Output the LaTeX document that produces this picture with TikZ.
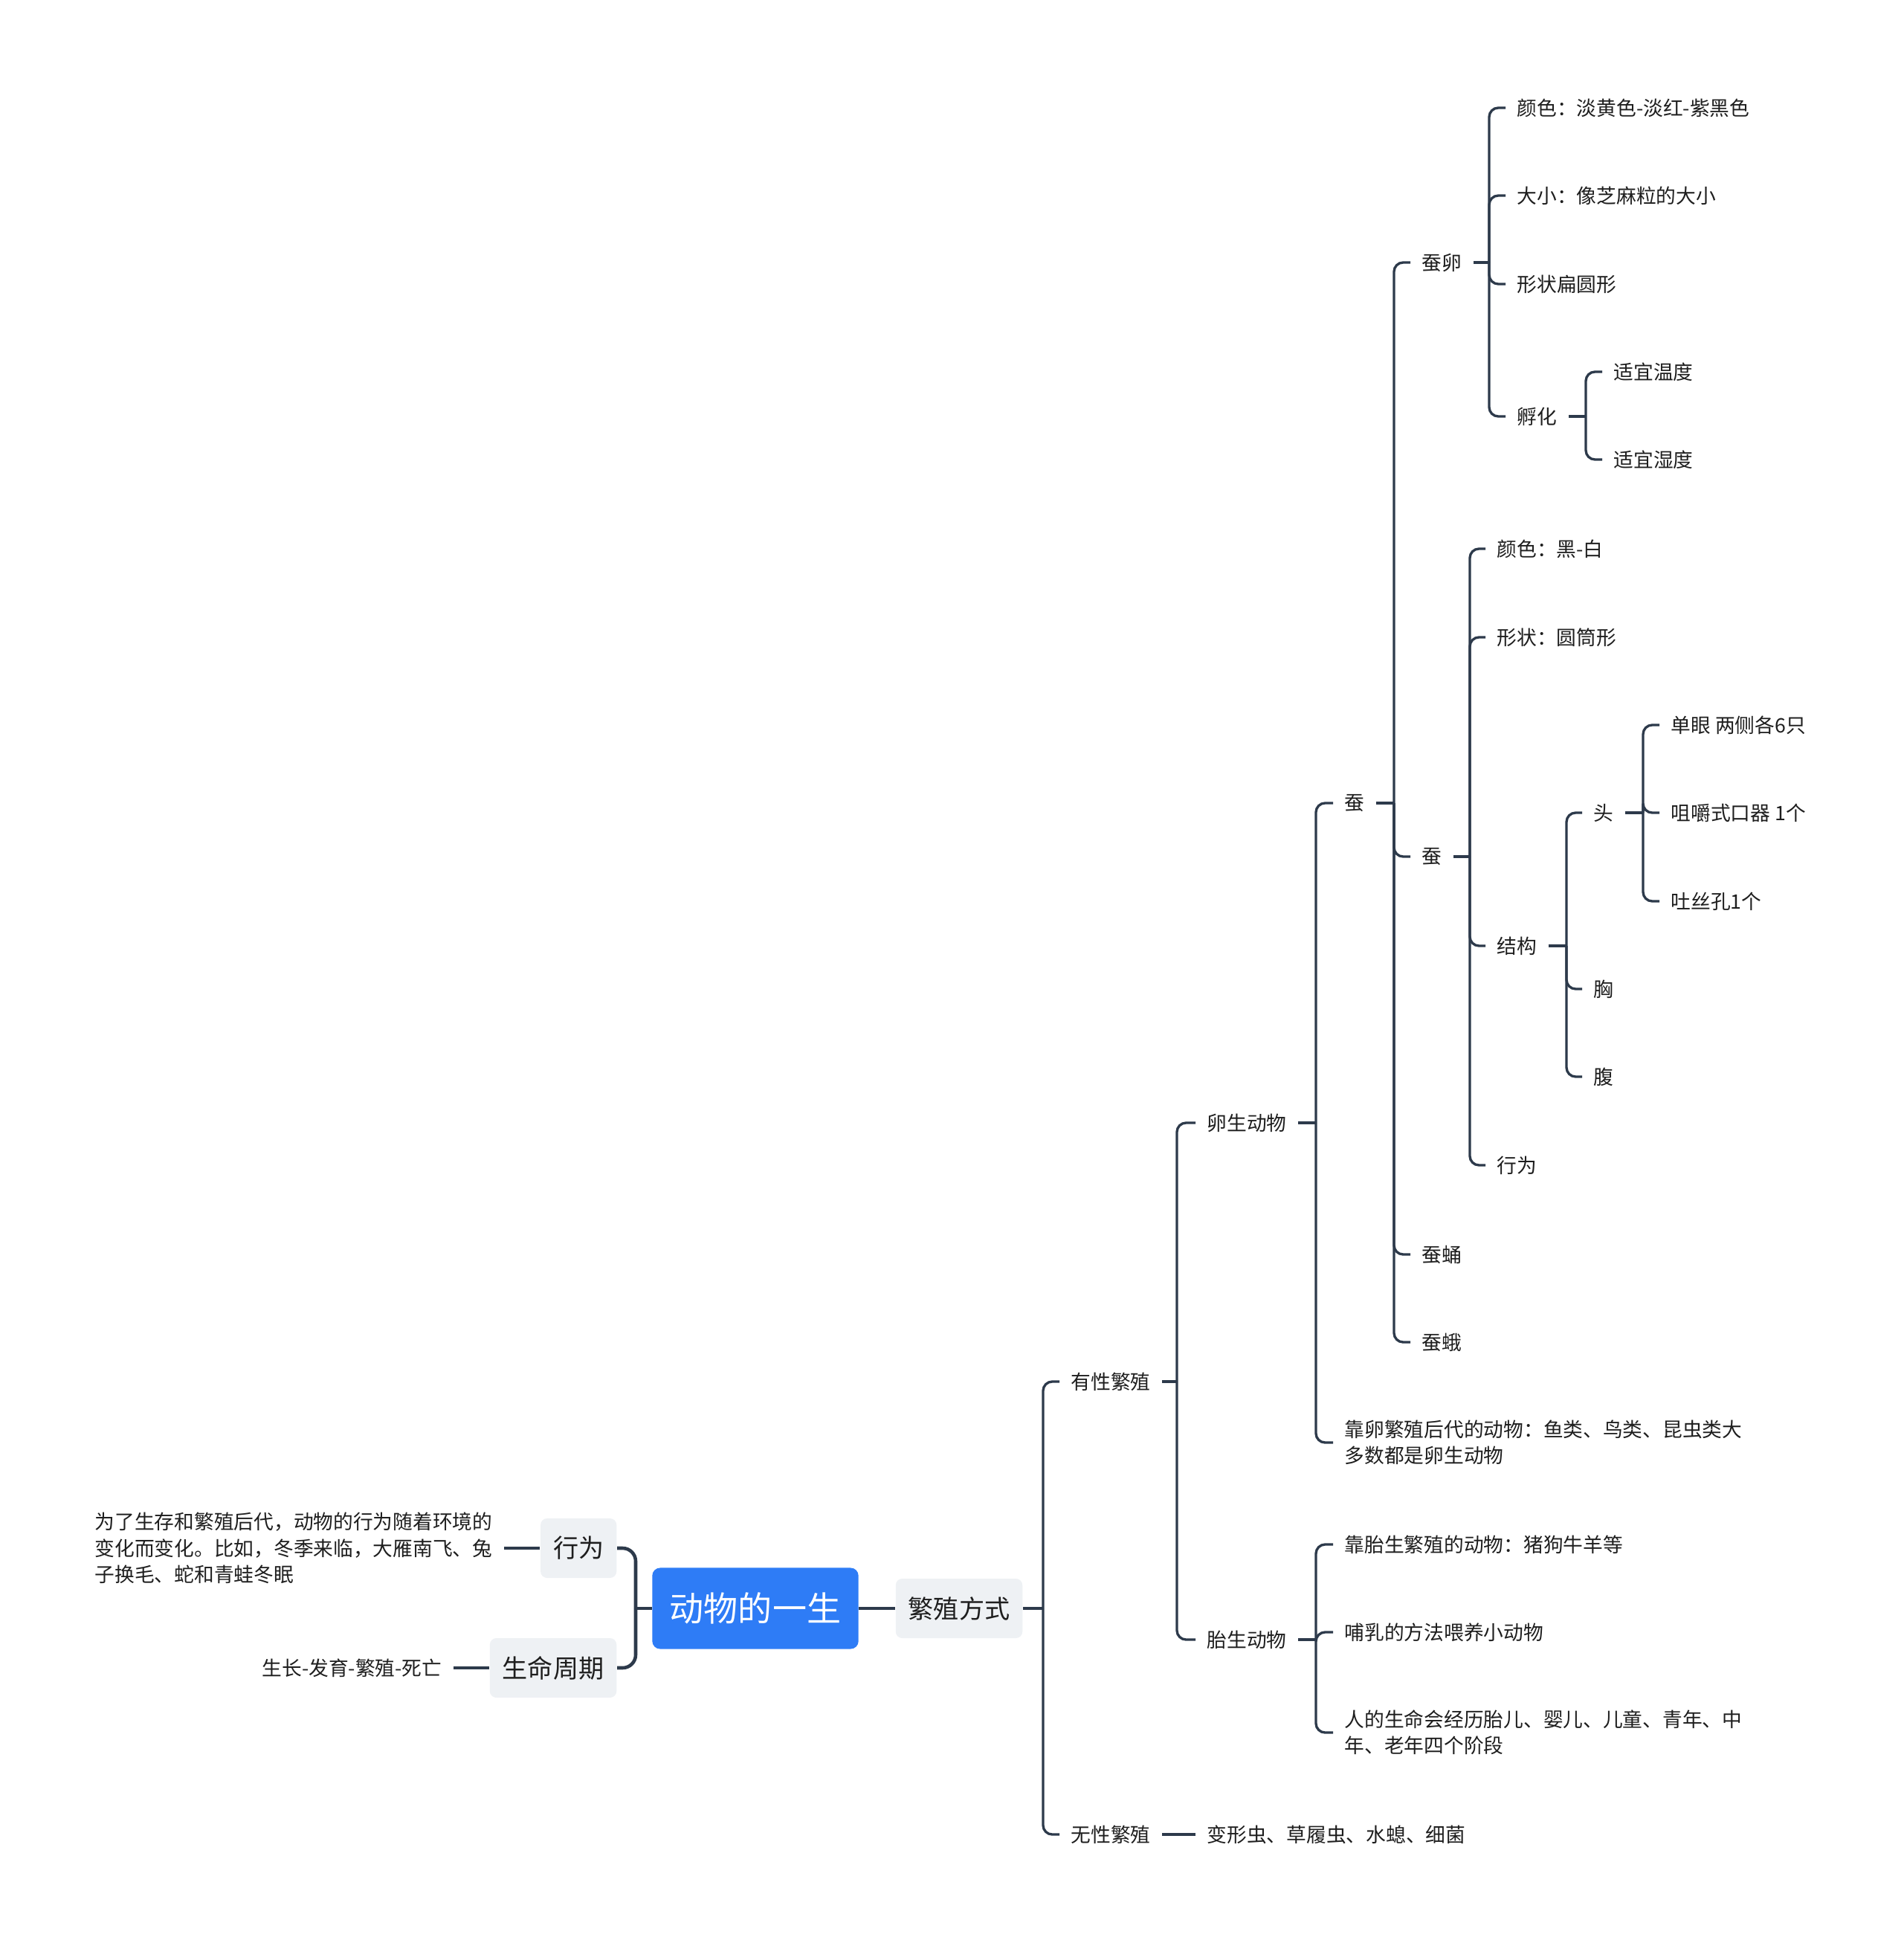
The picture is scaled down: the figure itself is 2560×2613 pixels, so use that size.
\documentclass[tikz,border=0pt]{standalone}
\usepackage{fontspec}
\setmainfont{Noto Sans CJK SC}
\definecolor{linkc}{HTML}{2D3A4B}
\definecolor{rootc}{HTML}{2E7CF6}
\definecolor{boxc}{HTML}{EEF1F4}
\definecolor{inkc}{HTML}{1E1E1E}
\tikzset{
  link/.style={draw=linkc, line width=0.95pt},
  mainlink/.style={draw=linkc, line width=1.3pt},
  leaf/.style={inner xsep=0.15cm, inner ysep=0.05cm, text=inkc, align=left,
    font=\fontsize{7.6pt}{10pt}\selectfont},
  topic/.style={fill=boxc, rounded corners=2.5pt, inner xsep=0.17cm,
    minimum height=0.8cm, text=inkc, font=\fontsize{9.7pt}{12pt}\selectfont},
  rootbox/.style={fill=rootc, rounded corners=3pt, inner xsep=0.235cm,
    minimum height=1.09cm, text=white, font=\fontsize{13.1pt}{16pt}\selectfont},
}
\newcommand{\stub}[2]{% short line from parent #1 to its spine at x=#2
  \coordinate (#1-s) at (#2,0 |- #1.east);
  \draw[link] (#1.east) -- (#1-s);
}
\newcommand{\twig}[2]{% rounded elbow from the spine of #1 to child #2
  \draw[link, rounded corners=3.5pt] (#1-s) |- (#2.west);
}

\begin{document}
\begin{tikzpicture}[x=0.01cm,y=-0.01cm]
  \useasboundingbox (0,0) rectangle (2560,2613);
  % centre and left side
  \node[rootbox] (life) at (1016,2163) {动物的一生};
  \node[topic] (breed) at (1290,2163) {繁殖方式};
  \node[topic, anchor=east] (act) at (830,2082) {行为};
  \node[topic, anchor=east] (cycle) at (830,2243) {生命周期};
  \node[leaf, anchor=east] (actx) at (678,2082)
    {为了生存和繁殖后代，动物的行为随着环境的\\变化而变化。比如，冬季来临，大雁南飞、兔\\子换毛、蛇和青蛙冬眠};
  \node[leaf, anchor=east] (cyclex) at (610,2243) {生长-发育-繁殖-死亡};
  \draw[mainlink] (life) -- (breed);
  \coordinate (life-s) at (855,0 |- life.west);
  \draw[mainlink] (life.west) -- (life-s);
  \draw[mainlink, rounded corners=5pt] (life-s) |- (act.east);
  \draw[mainlink, rounded corners=5pt] (life-s) |- (cycle.east);
  \draw[link] (actx) -- (act);
  \draw[link] (cyclex) -- (cycle);

  % ways of breeding
  \node[leaf, anchor=west] (sex) at (1425,1858) {有性繁殖};
  \node[leaf, anchor=west] (asex) at (1425,2467) {无性繁殖};
  \node[leaf, anchor=west] (asexx) at (1608,2467) {变形虫、草履虫、水螅、细菌};
  \node[leaf, anchor=west] (ovi) at (1608,1510) {卵生动物};
  \node[leaf, anchor=west] (vivi) at (1608,2205) {胎生动物};
  \node[leaf, anchor=west] (ovix) at (1793,1940)
    {靠卵繁殖后代的动物：鱼类、鸟类、昆虫类大\\多数都是卵生动物};
  \node[leaf, anchor=west] (vivia) at (1793,2077) {靠胎生繁殖的动物：猪狗牛羊等};
  \node[leaf, anchor=west] (vivib) at (1793,2195) {哺乳的方法喂养小动物};
  \node[leaf, anchor=west] (vivic) at (1793,2330)
    {人的生命会经历胎儿、婴儿、儿童、青年、中\\年、老年四个阶段};

  % silkworm
  \node[leaf, anchor=west] (silk) at (1793,1080) {蚕};
  \node[leaf, anchor=west] (egg) at (1897,353) {蚕卵};
  \node[leaf, anchor=west] (larva) at (1897,1152) {蚕};
  \node[leaf, anchor=west] (pupa) at (1897,1687) {蚕蛹};
  \node[leaf, anchor=west] (moth) at (1897,1805) {蚕蛾};
  \node[leaf, anchor=west] (egga) at (2025,145) {颜色：淡黄色-淡红-紫黑色};
  \node[leaf, anchor=west] (eggb) at (2025,263) {大小：像芝麻粒的大小};
  \node[leaf, anchor=west] (eggc) at (2025,382) {形状扁圆形};
  \node[leaf, anchor=west] (hatch) at (2025,560) {孵化};
  \node[leaf, anchor=west] (hatcha) at (2155,500) {适宜温度};
  \node[leaf, anchor=west] (hatchb) at (2155,618) {适宜湿度};
  \node[leaf, anchor=west] (larvaa) at (1998,738) {颜色：黑-白};
  \node[leaf, anchor=west] (larvab) at (1998,857) {形状：圆筒形};
  \node[leaf, anchor=west] (body) at (1998,1272) {结构};
  \node[leaf, anchor=west] (habit) at (1998,1567) {行为};
  \node[leaf, anchor=west] (head) at (2128,1093) {头};
  \node[leaf, anchor=west] (chest) at (2128,1330) {胸};
  \node[leaf, anchor=west] (belly) at (2128,1448) {腹};
  \node[leaf, anchor=west] (heada) at (2232,975) {单眼 两侧各6只};
  \node[leaf, anchor=west] (headb) at (2232,1093) {咀嚼式口器 1个};
  \node[leaf, anchor=west] (headc) at (2232,1212) {吐丝孔1个};

  % connectors
  \stub{breed}{1403} \twig{breed}{sex} \twig{breed}{asex}
  \draw[link] (asex) -- (asexx);
  \stub{sex}{1583} \twig{sex}{ovi} \twig{sex}{vivi}
  \stub{ovi}{1770} \twig{ovi}{silk} \twig{ovi}{ovix}
  \stub{vivi}{1770} \twig{vivi}{vivia} \twig{vivi}{vivib} \twig{vivi}{vivic}
  \stub{silk}{1875} \twig{silk}{egg} \twig{silk}{larva} \twig{silk}{pupa} \twig{silk}{moth}
  \stub{egg}{2003} \twig{egg}{egga} \twig{egg}{eggb} \twig{egg}{eggc} \twig{egg}{hatch}
  \stub{hatch}{2133} \twig{hatch}{hatcha} \twig{hatch}{hatchb}
  \stub{larva}{1977} \twig{larva}{larvaa} \twig{larva}{larvab} \twig{larva}{body} \twig{larva}{habit}
  \stub{body}{2107} \twig{body}{head} \twig{body}{chest} \twig{body}{belly}
  \stub{head}{2210} \twig{head}{heada} \twig{head}{headb} \twig{head}{headc}
\end{tikzpicture}
\end{document}
